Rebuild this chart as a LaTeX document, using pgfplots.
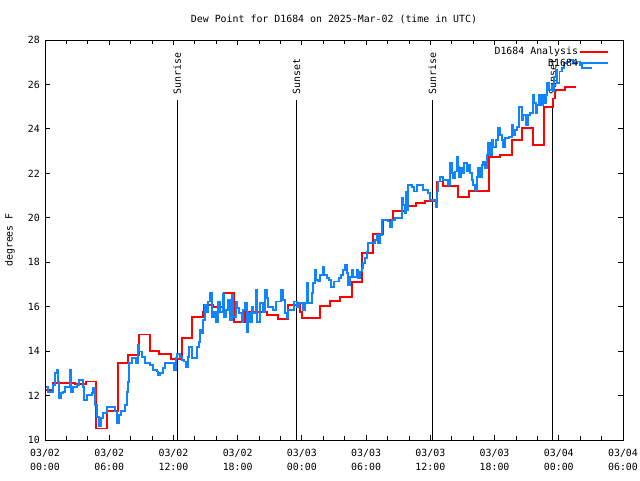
\documentclass[border=0pt]{standalone}
\usepackage{fontspec}
\setmainfont{DejaVu Sans Mono}
\usepackage{pgfplots}
\pgfplotsset{compat=1.18}
\definecolor{obsblue}{RGB}{16,132,255}
\definecolor{anared}{RGB}{255,0,0}
\begin{document}
\fontsize{9.9pt}{12pt}\selectfont
\begin{tikzpicture}
\useasboundingbox (-45pt,-40pt) rectangle (595pt,440pt);
\begin{axis}[
  scale only axis, width=578pt, height=400pt,
  xmin=0, xmax=54, ymin=10, ymax=28,
  xtick={0,6,...,54},
  minor xtick={2,4,8,10,14,16,20,22,26,28,32,34,38,40,44,46,50,52},
  xticklabels={{03/02\\00:00},{03/02\\06:00},{03/02\\12:00},{03/02\\18:00},{03/03\\00:00},{03/03\\06:00},{03/03\\12:00},{03/03\\18:00},{03/04\\00:00},{03/04\\06:00}},
  xticklabel style={align=center, inner sep=0pt, yshift=-9pt, font=\fontsize{9.9pt}{14pt}\selectfont},
  ytick={10,12,...,28},
  yticklabel style={inner sep=0pt, xshift=-5pt},
  tick align=inside, major tick length=5pt, minor tick length=4pt,
  tick style={black, line width=0.8pt},
  axis line style={line width=0.8pt},
  /pgf/number format/assume math mode=true,
  title={Dew Point for D1684 on 2025-Mar-02 (time in UTC)},
  title style={at={(axis description cs:0.5,1)}, anchor=center, yshift=15pt, inner sep=0pt},
  ylabel={degrees F},
  ylabel style={at={(axis description cs:-0.0606,0.5)}, anchor=center, inner sep=0pt},
  legend plot pos=right,
  legend cell align=right,
  legend image code/.code={\draw[#1, line width=1.8pt] (2pt,0pt) -- (30pt,0pt);},
  legend style={draw=none, fill=none, at={(rel axis cs:1,1)}, anchor=north east, xshift=-14pt, yshift=-6pt, inner sep=0pt, row sep=0.5pt, nodes={inner sep=1pt}, font=\fontsize{9.9pt}{12pt}\selectfont},
]
\draw[black, line width=1.3pt] (axis cs:12.36,10) -- (axis cs:12.36,25.3);
\node[rotate=90, anchor=west, inner sep=0pt] at (axis cs:12.36,25.53) {Sunrise};
\draw[black, line width=1.3pt] (axis cs:23.51,10) -- (axis cs:23.51,25.3);
\node[rotate=90, anchor=west, inner sep=0pt] at (axis cs:23.51,25.53) {Sunset};
\draw[black, line width=1.3pt] (axis cs:36.20,10) -- (axis cs:36.20,25.3);
\node[rotate=90, anchor=west, inner sep=0pt] at (axis cs:36.20,25.53) {Sunrise};
\draw[black, line width=1.3pt] (axis cs:47.43,10) -- (axis cs:47.43,25.3);
\node[rotate=90, anchor=west, inner sep=0pt] at (axis cs:47.43,25.53) {Sunset};

\addplot[const plot, draw=anared, color=anared, line width=1.8pt, line join=miter] coordinates {
(0.10,12.25) (0.78,12.58) (2.80,12.52) (3.83,12.63) (4.76,10.52) (5.76,11.32)
(6.79,13.45) (7.79,13.83) (8.78,14.75) (9.81,14.00) (10.68,13.87) (11.74,13.63)
(12.77,14.58) (13.70,15.55) (14.73,15.77) (14.89,16.08) (15.66,15.97) (16.72,16.60)
(17.69,15.32) (18.68,15.77) (20.71,15.63) (21.74,15.43) (22.67,16.08) (23.82,15.77)
(23.98,15.48) (25.69,16.03) (26.63,16.27) (27.56,16.42) (28.65,17.12) (29.65,18.43)
(30.61,19.27) (31.55,19.90) (32.54,20.32) (33.63,20.53) (34.66,20.68) (35.50,20.77)
(36.59,21.63) (37.21,21.43) (38.55,20.95) (39.64,21.20) (41.51,22.75) (42.50,22.82)
(43.60,23.50) (44.53,24.03) (45.56,23.27) (46.62,24.97) (47.43,25.37) (47.65,25.75)
(48.58,25.87) (49.58,25.87)
};
\addlegendentry{D1684 Analysis}

\addplot[const plot, draw=obsblue, color=obsblue, line width=1.8pt, line join=miter] coordinates {
(0.10,12.40) (0.31,12.17) (0.72,12.47) (0.93,13.00) (1.09,13.15) (1.25,12.62)
(1.34,11.88) (1.46,12.10) (1.65,12.17) (1.87,12.40) (2.34,13.15) (2.43,12.17)
(2.65,12.40) (3.02,12.47) (3.21,12.70) (3.58,12.40) (3.67,11.80) (3.89,12.03)
(4.36,12.10) (4.52,12.33) (4.67,11.58) (4.89,11.05) (5.08,10.63) (5.20,10.98)
(5.45,11.20) (5.76,11.50) (6.54,11.28) (6.76,10.78) (6.94,11.13) (7.10,11.32)
(7.47,11.58) (7.63,12.17) (7.72,12.62) (7.88,13.45) (8.10,13.68) (8.50,13.45)
(8.66,14.28) (8.78,13.98) (9.03,13.75) (9.34,13.45) (9.81,13.38) (10.12,13.15)
(10.43,13.08) (10.59,12.93) (10.74,13.00) (10.99,13.23) (11.21,13.45) (12.08,13.15)
(12.24,13.68) (12.36,13.87) (12.61,13.75) (12.77,13.60) (12.99,13.53) (13.14,13.30)
(13.33,13.75) (13.48,14.20) (13.70,13.68) (14.23,14.20) (14.42,14.42) (14.48,14.95)
(14.63,14.80) (14.79,15.40) (14.95,16.08) (15.10,15.77) (15.26,16.23) (15.42,16.60)
(15.57,15.55) (15.79,15.77) (15.98,15.32) (16.19,16.23) (16.35,15.77) (16.60,16.57)
(16.72,15.55) (16.91,15.85) (17.13,16.30) (17.28,15.40) (17.44,16.53) (17.60,15.55)
(17.84,16.23) (17.97,15.93) (18.15,15.70) (18.37,15.32) (18.53,15.85) (18.68,16.15)
(18.84,14.87) (19.00,15.70) (19.15,15.32) (19.31,16.00) (19.46,15.70) (19.71,16.75)
(19.84,15.32) (20.09,16.15) (20.34,15.77) (20.55,16.75) (20.71,16.38) (20.87,16.00)
(21.33,15.85) (21.58,16.23) (22.05,16.75) (22.27,16.30) (22.42,15.70) (22.58,15.48)
(22.73,15.85) (23.26,16.23) (23.51,16.00) (23.76,16.15) (24.13,15.85) (24.29,16.15)
(24.45,16.75) (24.51,17.05) (24.60,16.15) (24.91,16.60) (25.07,17.05) (25.22,17.65)
(25.32,17.20) (25.54,17.13) (25.69,17.43) (25.94,17.80) (26.10,17.43) (26.31,17.28)
(26.56,17.20) (26.72,16.90) (27.03,17.13) (27.50,17.28) (27.62,17.43) (27.87,17.65)
(28.03,17.88) (28.18,17.50) (28.34,16.98) (28.50,17.35) (28.65,17.65) (28.81,17.35)
(29.12,17.65) (29.27,17.28) (29.43,17.58) (29.59,17.73) (29.74,17.95) (29.90,18.18)
(30.11,18.47) (30.21,18.85) (30.83,19.00) (30.99,19.23) (31.14,18.85) (31.30,19.23)
(31.45,19.90) (32.08,19.83) (32.23,19.60) (32.39,19.90) (32.70,19.98) (33.32,20.88)
(33.48,20.58) (33.63,20.20) (33.73,21.18) (33.85,20.35) (33.94,21.48) (34.26,21.40)
(34.47,21.18) (34.72,21.48) (35.35,21.25) (35.81,21.10) (35.97,20.80) (36.50,20.50)
(36.59,21.18) (36.75,21.63) (36.90,21.82) (37.21,21.70) (37.68,21.48) (37.84,22.45)
(37.99,22.00) (38.15,21.78) (38.31,22.08) (38.46,22.75) (38.56,22.30) (38.71,21.85)
(38.84,22.23) (39.02,22.00) (39.18,22.45) (39.39,22.08) (39.55,22.38) (39.70,22.00)
(39.86,21.70) (40.02,21.48) (40.17,21.25) (40.33,21.85) (40.49,22.23) (40.64,21.85)
(40.80,22.38) (40.95,22.53) (41.11,22.23) (41.26,22.83) (41.42,23.35) (41.58,22.83)
(41.73,23.50) (41.89,23.20) (42.13,23.50) (42.35,24.03) (42.51,23.73) (42.67,23.50)
(42.82,23.20) (42.98,23.58) (43.38,23.65) (43.60,24.18) (43.75,23.73) (43.91,23.95)
(44.13,24.10) (44.31,25.00) (44.53,24.40) (44.69,24.63) (44.94,24.18) (45.09,24.63)
(45.31,24.70) (45.56,25.53) (45.68,25.15) (45.87,24.70) (46.00,25.08) (46.18,25.53)
(46.31,25.08) (46.50,25.53) (46.62,25.15) (46.81,25.53) (46.93,26.05) (47.12,25.75)
(47.34,25.98) (47.43,25.68) (47.56,26.35) (47.74,26.65) (47.87,26.05) (48.06,26.58)
(48.28,26.73) (48.49,26.95) (48.74,27.03) (49.05,27.10) (49.36,26.95) (49.67,27.03)
(49.99,26.88) (50.14,26.73) (51.07,26.73)
};
\addlegendentry{D1684}
\end{axis}
\end{tikzpicture}
\end{document}
